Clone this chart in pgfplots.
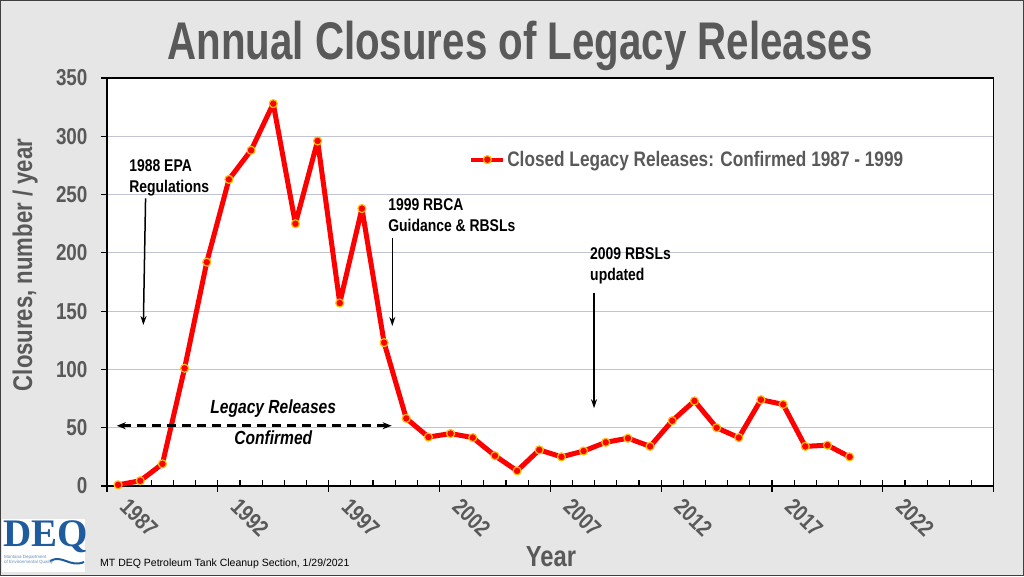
\documentclass[border=0pt]{standalone}
\usepackage{pgfplots}
\pgfplotsset{compat=1.18}
\usepackage{fontspec}
\setmainfont{Liberation Sans}
\newfontfamily\narrow{Liberation Sans}[FakeStretch=0.82]
\newfontfamily\titlefont{Liberation Sans}[FakeStretch=0.76]
\newfontfamily\logofont{Liberation Serif}
\usetikzlibrary{arrows.meta}

\definecolor{bggray}{HTML}{E6E6E6}
\definecolor{txtgray}{HTML}{595959}
\definecolor{gridc}{HTML}{C0C4D4}
\definecolor{mkedge}{HTML}{FFC000}
\definecolor{deqblue}{HTML}{1F5C9E}

\begin{document}
\begin{tikzpicture}
% page background and frame
\fill[bggray] (0pt,0pt) rectangle (1024pt,576pt);
\draw[black!75, line width=1pt] (0.5pt,0.5pt) rectangle (1023.5pt,575.5pt);

% DEQ logo (approximation)
\fill[white] (2pt,4pt) rectangle (85pt,57pt);
\node[anchor=north west, inner sep=0pt, text=deqblue,
      font=\logofont\bfseries\fontsize{39}{39}\selectfont] at (3pt,56pt) {DEQ};
\draw[deqblue, line width=2pt] (50pt,15pt) .. controls (62pt,22pt) and (70pt,8pt) .. (84pt,14pt);
\node[anchor=north west, inner sep=0pt, align=left, text=deqblue!70,
      font=\fontsize{4.5}{5.5}\selectfont] at (4pt,21pt) {Montana Department\\of Environmental Quality};

% titles
\node[anchor=base, text=txtgray, font=\titlefont\bfseries\fontsize{53}{53}\selectfont]
  at (520pt,516pt) {Annual Closures of Legacy Releases};
\node[anchor=base, rotate=90, text=txtgray, font=\narrow\bfseries\fontsize{27}{27}\selectfont]
  at (32pt,311pt) {Closures, number / year};
\node[anchor=base, text=txtgray, font=\narrow\bfseries\fontsize{29}{29}\selectfont]
  at (551pt,10pt) {Year};
\node[anchor=base west, inner sep=0pt, font=\fontsize{10.5}{10.5}\selectfont]
  at (100pt,10pt) {MT DEQ Petroleum Tank Cleanup Section, 1/29/2021};

\begin{axis}[
  at={(107pt,90pt)}, anchor=south west,
  scale only axis, width=886.7pt, height=408pt,
  xmin=1986.5, xmax=2026.5, ymin=0, ymax=350,
  axis background/.style={fill=white},
  axis line style={black, line width=1.2pt},
  xtick={1986.5,1991.5,...,2026.5},
  xticklabels={1987,1992,1997,2002,2007,2012,2017,2022,},
  minor xtick={1986.5,1987.5,...,2026.5},
  ytick={0,50,...,350},
  xtick pos=left, ytick pos=left,
  tick align=outside,
  major tick length=6pt, minor tick length=6pt,
  tick style={black, line width=1.2pt},
  minor x tick style={yshift=6pt},
  ymajorgrids, major grid style={gridc, line width=1.2pt},
  /pgf/number format/assume math mode=true,
  tick label style={text=txtgray, font=\narrow\bfseries\fontsize{23}{23}\selectfont},
  xticklabel style={xshift=23pt, rotate=-45, anchor=north west},
  yticklabel style={xshift=-10pt},
  legend style={at={(0.405,0.80)}, anchor=west, draw=none, fill=none,
    text=txtgray, font=\narrow\bfseries\fontsize{21}{21}\selectfont},
  legend image code/.code={\draw[mark repeat=2, mark phase=2, #1, line width=4pt]
    plot coordinates {(0pt,0pt) (16pt,0pt) (32pt,0pt)};},
]

\addplot[color=red, line width=5pt, line join=round, mark=*, mark size=4pt,
  mark options={fill=red, draw=mkedge, line width=1.2pt}] coordinates {
  (1987,1) (1988,4.5) (1989,19) (1990,101) (1991,192) (1992,263)
  (1993,288) (1994,328) (1995,225) (1996,296) (1997,157) (1998,238)
  (1999,123) (2000,58) (2001,42) (2002,45) (2003,41.5) (2004,26)
  (2005,13) (2006,31) (2007,25) (2008,30) (2009,37.5) (2010,41)
  (2011,34) (2012,56) (2013,73) (2014,50) (2015,41.5) (2016,74)
  (2017,70) (2018,34) (2019,35) (2020,25)
};
\addlegendentry{Closed Legacy Releases: Confirmed 1987 - 1999}

% annotations
\node[anchor=north west, inner sep=0pt, align=left,
  font=\narrow\bfseries\fontsize{17}{21}\selectfont] at (axis cs:1987.5,280.5)
  {1988 EPA\\Regulations};
\draw[-{Stealth[length=9pt,width=6pt]}, line width=1.5pt]
  (axis cs:1988.24,246.8) -- (axis cs:1988.14,138.1);

\node[anchor=north west, inner sep=0pt, align=left,
  font=\narrow\bfseries\fontsize{17}{21}\selectfont] at (axis cs:1999.18,247)
  {1999 RBCA\\Guidance \& RBSLs};
\draw[-{Stealth[length=9pt,width=6pt]}, line width=1.5pt]
  (axis cs:1999.37,212.5) -- (axis cs:1999.37,137.3);

\node[anchor=north west, inner sep=0pt, align=left,
  font=\narrow\bfseries\fontsize{17}{21}\selectfont] at (axis cs:2008.29,204.8)
  {2009 RBSLs\\updated};
\draw[-{Stealth[length=9pt,width=6pt]}, line width=1.5pt]
  (axis cs:2008.47,165.5) -- (axis cs:2008.47,66.7);

\node[anchor=base, inner sep=0pt,
  font=\narrow\bfseries\itshape\fontsize{19}{19}\selectfont] at (axis cs:1994.0,62.6)
  {Legacy Releases};
\node[anchor=base, inner sep=0pt,
  font=\narrow\bfseries\itshape\fontsize{19}{19}\selectfont] at (axis cs:1994.0,35.2)
  {Confirmed};
\draw[{Stealth[length=9pt,width=7pt]}-{Stealth[length=9pt,width=7pt]},
  line width=2.5pt, dash pattern=on 9pt off 6pt]
  (axis cs:1986.94,51.7) -- (axis cs:1999.34,51.7);

\end{axis}
\end{tikzpicture}
\end{document}
